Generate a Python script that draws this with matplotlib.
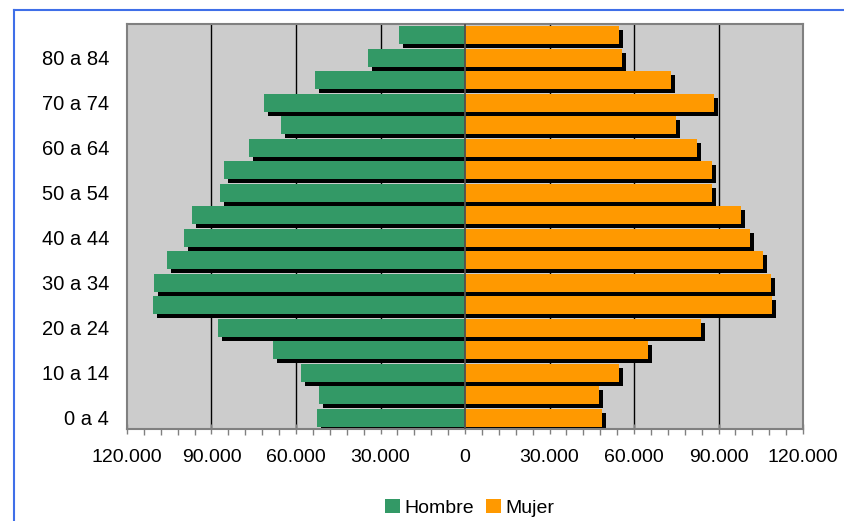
import matplotlib
matplotlib.use("Agg")
import numpy as np
from matplotlib import pyplot as plt
from matplotlib import transforms
from matplotlib.lines import Line2D
from matplotlib.ticker import FuncFormatter, MultipleLocator

# Age groups, from youngest (bottom) to oldest (top)
edades = ["0 a 4", "5 a 9", "10 a 14", "15 a 19", "20 a 24", "25 a 29",
          "30 a 34", "35 a 39", "40 a 44", "45 a 49", "50 a 54", "55 a 59",
          "60 a 64", "65 a 69", "70 a 74", "75 a 79", "80 a 84", "85 y más"]
hombre = [52700, 51700, 58100, 68300, 87800, 110800, 110400, 105800, 99800,
          97000, 87100, 85700, 76800, 65500, 71200, 53100, 34300, 23400]
mujer = [48500, 47400, 54500, 64800, 83900, 109000, 108700, 105800, 101200,
         98100, 87800, 87800, 82500, 75000, 88500, 73300, 55900, 54500]
xticks = [-120000, -90000, -60000, -30000, 0, 30000, 60000, 90000, 120000]

plt.rcParams["font.family"] = ["Liberation Sans", "DejaVu Sans"]

W, H = 844, 521
fig = plt.figure(figsize=(W / 100, H / 100), dpi=100)
ax = fig.add_axes([127 / W, 1 - 429 / H, (803 - 127) / W, (429 - 24) / H])
ax.set_facecolor("#cccccc")

y = np.arange(len(edades))
verde = "#339966"
naranja = "#ff9900"

# black drop shadow, shifted 4px right and 4px down
shift = transforms.ScaledTranslation(4 / 100, -4 / 100, fig.dpi_scale_trans)
sh1 = ax.barh(y, -np.array(hombre), height=0.8, color="black", zorder=2)
sh2 = ax.barh(y, mujer, height=0.8, color="black", zorder=2)
for p in list(sh1) + list(sh2):
    p.set_transform(ax.transData + shift)

ax.barh(y, -np.array(hombre), height=0.8, color=verde, zorder=3, label="Hombre")
ax.barh(y, mujer, height=0.8, color=naranja, zorder=3, label="Mujer")

for xv in xticks[1:-1]:
    if xv != 0:
        ax.axvline(xv, color="black", lw=1.0, zorder=1)
ax.axvline(0, color="#505050", lw=1.3, zorder=4)

ax.set_xlim(-120000, 120000)
ax.set_ylim(-0.5, len(edades) - 0.5)
ax.set_xticks(xticks)
ax.xaxis.set_minor_locator(MultipleLocator(6000))
ax.xaxis.set_major_formatter(FuncFormatter(lambda v, pos: f"{abs(int(v)):,}".replace(",", ".")))
ax.tick_params(axis="x", which="major", direction="inout", length=7, width=1,
               color="#808080", labelsize=14, pad=11)
ax.tick_params(axis="x", which="minor", direction="out", length=4, width=1,
               color="#808080")

ax.set_yticks(y[::2])
ax.set_yticklabels(edades[::2])
ax.tick_params(axis="y", length=0, labelsize=14.5, pad=13)

for s in ax.spines.values():
    s.set_color("#808080")
    s.set_linewidth(1.5)

handles, labels = ax.get_legend_handles_labels()
fig.legend(handles, labels, loc="center", bbox_to_anchor=(470 / W, 1 - 508 / H),
           ncol=2, frameon=False, fontsize=14, handlelength=0.75, handleheight=0.75,
           handletextpad=0.25, columnspacing=0.6)

# blue frame around the chart
blue = "#3f6fe8"
fig.add_artist(Line2D([14 / W, 1], [1 - 10 / H, 1 - 10 / H], color=blue, lw=1.5))
fig.add_artist(Line2D([14 / W, 14 / W], [0, 1 - 10 / H], color=blue, lw=1.5))

fig.savefig("out.png", dpi=100)
